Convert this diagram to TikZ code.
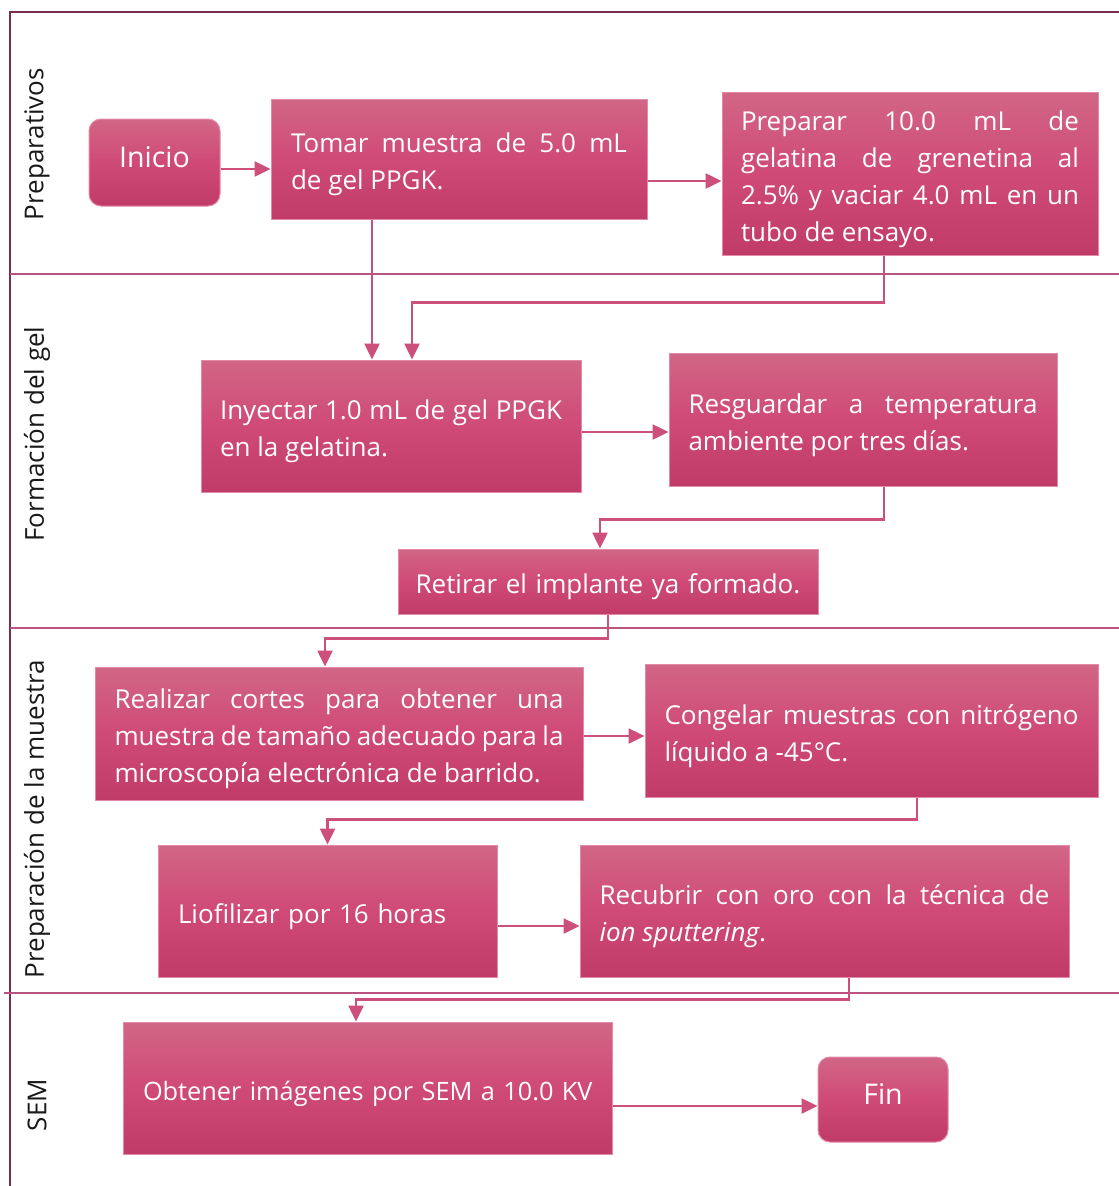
\documentclass[tikz,border=0pt]{standalone}
\usepackage{fontspec}
\setmainfont{Open Sans}
\usetikzlibrary{arrows.meta}

\definecolor{boxtop}{HTML}{D16686}
\definecolor{boxmid}{HTML}{D04A77}
\definecolor{boxbot}{HTML}{C13B69}
\definecolor{boxedge}{HTML}{E38AA8}
\definecolor{flow}{HTML}{CC4F7C}
\definecolor{frame}{HTML}{7B2D4E}
\definecolor{lane}{HTML}{BA5282}

\tikzset{
  shadedbox/.style={draw=boxedge, line width=1pt, top color=boxtop, bottom color=boxbot,
    middle color=boxmid, text=white, inner sep=0pt},
  % a taller first line moves the text block a little below the box centre
  stepbox/.style={shadedbox, font=\fontsize{26}{37}\selectfont, text height=31pt},
  % start/end terminals: text sits a little above the centre
  termbox/.style={shadedbox, rounded corners=12pt, font=\fontsize{28.5}{37}\selectfont,
    text height=21pt, text depth=12pt},
  arr/.style={draw=flow, line width=2.5pt, -{Triangle[length=16pt,width=15pt]}},
  lanelabel/.style={rotate=90, font=\fontsize{26}{30}\selectfont, text=black!90},
  frameline/.style={draw=frame, line width=2.5pt},
  laneline/.style={draw=lane, line width=1.8pt},
}

\begin{document}
\begin{tikzpicture}[x=1pt, y=-1pt]
\useasboundingbox (0,0) rectangle (1119,1186);

% swimlane frame and dividers
\draw[frameline] (10,1186) -- (10,12) -- (1119,12);
\draw[laneline] (10,274) -- (1119,274);
\draw[laneline] (10,628) -- (1119,628);
\draw[laneline] (4,993) -- (1119,993);

% lane titles
\node[lanelabel] (lp) at (37,144) {Preparativos};
\node[lanelabel] (lf) at (37,434) {Formación del gel};
\node[lanelabel] (lm) at (37,819) {Preparación de la muestra};
\node[lanelabel] (ls) at (37,1105) {SEM};

% process steps
\node[termbox, minimum width=131pt, minimum height=87pt] (inicio) at (154.5,162.5) {Inicio};
\node[stepbox, minimum width=376pt, minimum height=120pt, text width=336pt, align=justify]
  (tomar) at (459,159) {Tomar muestra de 5.0 mL\linebreak de gel PPGK.};
\node[stepbox, minimum width=376pt, minimum height=163pt, text width=338pt, align=justify]
  (prep) at (910,173.5) {Preparar 10.0 mL de\linebreak gelatina de grenetina al\linebreak 2.5\% y vaciar 4.0 mL en un\linebreak tubo de ensayo.};
\node[stepbox, minimum width=380pt, minimum height=132pt, text width=342pt, align=justify]
  (iny) at (391,426) {Inyectar 1.0 mL de gel PPGK\linebreak en la gelatina.};
\node[stepbox, minimum width=388pt, minimum height=133pt, text width=349pt, align=justify]
  (resg) at (863,419.5) {Resguardar a temperatura\linebreak ambiente por tres días.};
\node[stepbox, minimum width=420pt, minimum height=65pt, text width=400pt, align=center]
  (ret) at (608,581.5) {Retirar el implante ya formado.};
\node[stepbox, minimum width=488pt, minimum height=133pt, text width=449pt, align=justify]
  (real) at (339,733.5) {Realizar cortes para obtener una\linebreak muestra de tamaño adecuado para la\linebreak microscopía electrónica de barrido.};
\node[stepbox, minimum width=453pt, minimum height=133pt, text width=414pt, align=justify]
  (cong) at (871.5,730.5) {Congelar muestras con nitrógeno\linebreak líquido a -45°C.};
\node[stepbox, minimum width=339pt, minimum height=132pt, text width=299pt, align=left]
  (liof) at (327.5,911) {Liofilizar por 16 horas};
\node[stepbox, minimum width=489pt, minimum height=132pt, text width=450pt, align=justify]
  (recub) at (824.5,911) {Recubrir con oro con la técnica de\linebreak \textit{ion sputtering}.};
\node[stepbox, minimum width=489pt, minimum height=132pt, text width=449pt, align=left,
  font=\fontsize{25.3}{37}\selectfont]
  (obt) at (367.5,1088) {\mbox{Obtener imágenes por SEM a 10.0 KV}};
\node[termbox, minimum width=130pt, minimum height=85pt] (fin) at (883,1099.5) {Fin};

% connectors
\draw[arr] ([yshift=-6.5pt]inicio.east) -- ([yshift=-6.5pt]inicio.east -| tomar.west);
\draw[arr] ([yshift=-22pt]tomar.east) -- ([yshift=-22pt]tomar.east -| prep.west);
\draw[arr] ([xshift=-87pt]tomar.south) -- ([xshift=-87pt]tomar.south |- iny.north);
\draw[arr] ([xshift=-26pt]prep.south) -- ++(0,47) -| ([xshift=21pt]iny.north);
\draw[arr] ([yshift=-6pt]iny.east) -- ([yshift=-6pt]iny.east -| resg.west);
\draw[arr] ([xshift=21pt]resg.south) -- ++(0,33) -| ([xshift=-8pt]ret.north);
\draw[arr] (ret.south) -- ++(0,24) -| ([xshift=-14pt]real.north);
\draw[arr] ([yshift=-2.5pt]real.east) -- ([yshift=-2.5pt]real.east -| cong.west);
\draw[arr] ([xshift=45.5pt]cong.south) -- ++(0,22) -| (liof.north);
\draw[arr] ([yshift=-15pt]liof.east) -- ([yshift=-15pt]liof.east -| recub.west);
\draw[arr] ([xshift=24.5pt]recub.south) -- ++(0,22) -| ([xshift=-11.5pt]obt.north);
\draw[arr] ([yshift=-18pt]obt.east) -- ([yshift=-18pt]obt.east -| fin.west);
\end{tikzpicture}
\end{document}
